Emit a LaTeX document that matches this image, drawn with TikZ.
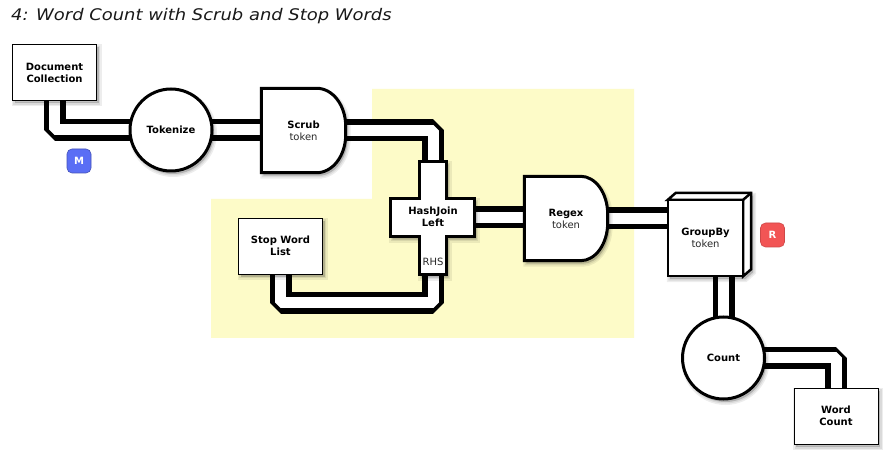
\documentclass[tikz,border=0pt]{standalone}
\usepackage{fontspec}
\setmainfont{DejaVu Sans}
\newfontfamily\titlefont[FakeStretch=1.12]{DejaVu Sans}
\pgfdeclarelayer{bg}\pgfdeclarelayer{pipes}\pgfdeclarelayer{shapes}
\pgfsetlayers{bg,pipes,shapes,main}
\definecolor{zone}{RGB}{253,251,200}
\definecolor{mblue}{RGB}{90,110,245}
\definecolor{rred}{RGB}{242,85,85}
\definecolor{subtext}{RGB}{40,40,40}
\tikzset{
 lbl/.style={font=\fontsize{10}{12}\selectfont, align=center, inner sep=0pt},
 shad/.style={
   preaction={draw=black, draw opacity=0.07, line width=6pt, transform canvas={shift={(2pt,-3pt)}}},
   preaction={draw=black, draw opacity=0.08, line width=3pt, transform canvas={shift={(2pt,-3pt)}}},
   preaction={fill=black, fill opacity=0.18, transform canvas={shift={(2pt,-3pt)}}}},
 store/.style={lbl, font=\fontsize{10}{12}\selectfont\bfseries, draw=black, line width=0.8pt, fill=white, minimum width=84pt, minimum height=56pt, shad},
 proc/.style={lbl, font=\fontsize{10}{12}\selectfont\bfseries, circle, draw=black, line width=3pt, fill=white, minimum size=82pt, shad},
 heavy/.style={draw=black, line width=3pt, fill=white, line join=miter, shad},
 cubeline/.style={draw=black, line width=2.5pt, fill=white, line join=miter},
 pipeout/.style={draw=black, line width=22pt, line join=bevel},
 pipein/.style={draw=white, line width=11pt, line join=bevel},
 badge/.style={rounded corners=5pt, minimum width=24pt, minimum height=24pt, inner sep=0pt, text=white, line width=0.6pt, font=\fontsize{10}{12}\selectfont\bfseries},
}
\newcommand\pipepath[1]{\draw[pipeout] #1; \draw[pipein] #1;}
\newcommand\subt[1]{\textcolor{subtext}{#1}}
\begin{document}
\begin{tikzpicture}[x=1pt,y=1pt]
\useasboundingbox (0,0) rectangle (890,460);
\begin{pgfonlayer}{bg}
\fill[white] (0,0) rectangle (890,460);
\fill[zone] (372,371) -- (634,371) -- (634,122) -- (211,122) -- (211,261) -- (372,261) -- cycle;
\end{pgfonlayer}

% title
\node[anchor=base west, inner sep=0pt, text=black!90, font=\titlefont\itshape\fontsize{16}{18}\selectfont] (title) at (11,439.5) {4: Word Count with Scrub and Stop Words};

% plain nodes
\node[store] (doc) at (54.5,387.5) {Document\\Collection};
\node[store] (sw) at (280.5,214) {Stop Word\\List};
\node[store] (wc) at (836,44) {Word\\Count};
\node[proc] (tok) at (171,330) {Tokenize};
\node[proc] (count) at (723.5,102) {Count};

% nodes whose outline is drawn on the shapes layer
\node[lbl, minimum width=84pt, minimum height=84pt] (scrub) at (303.5,329.5) {\textbf{Scrub}\\\subt{token}};
\node[lbl, minimum width=83pt, minimum height=84pt] (regex) at (566,241.5) {\textbf{Regex}\\\subt{token}};
\node[lbl, minimum width=27pt, minimum height=113pt] (hj) at (433,242) {};
\node[lbl, minimum width=84pt, minimum height=38pt] (hjh) at (432.5,242.5) {};
\node[lbl, font=\fontsize{10}{12}\selectfont\bfseries] (hjl) at (433,243) {HashJoin\\Left};
\node[lbl] (rhs) at (433,198) {\subt{RHS}};
\node[lbl, minimum width=75pt, minimum height=76pt] (gb) at (705.5,222) {\textbf{GroupBy}\\\subt{token}};

% badges
\node[badge, fill=mblue, draw=mblue!75!black] (m) at (79,299) {M};
\node[badge, fill=rred, draw=rred!85!black] (r) at (772.5,225) {R};

\begin{pgfonlayer}{shapes}
% Scrub
\draw[heavy] (scrub.south west) -- (scrub.north west) -- ([xshift=-29pt]scrub.north east)
  arc[start angle=90,end angle=0,x radius=29pt,y radius=38pt] -- ([yshift=38pt]scrub.south east)
  arc[start angle=0,end angle=-90,x radius=29pt,y radius=38pt] -- cycle;
% Regex
\draw[heavy] (regex.south west) -- (regex.north west) -- ([xshift=-27pt]regex.north east)
  arc[start angle=90,end angle=0,x radius=27pt,y radius=38pt] -- ([yshift=38pt]regex.south east)
  arc[start angle=0,end angle=-90,x radius=27pt,y radius=38pt] -- cycle;
% HashJoin cross
\draw[heavy] (hj.north west) -- (hj.north east) -- (hj.east |- hjh.north) -- (hjh.north east)
  -- (hjh.south east) -- (hj.east |- hjh.south) -- (hj.south east) -- (hj.south west)
  -- (hj.west |- hjh.south) -- (hjh.south west) -- (hjh.north west) -- (hj.west |- hjh.north) -- cycle;
% GroupBy cube
\path[shad] (gb.south west) -- (gb.north west) -- ([shift={(8,7)}]gb.north west)
  -- ([shift={(8,7)}]gb.north east) -- ([shift={(8,7)}]gb.south east) -- (gb.south east) -- cycle;
\draw[cubeline] (gb.north west) -- ([shift={(8,7)}]gb.north west) -- ([shift={(8,7)}]gb.north east)
  -- ([shift={(8,7)}]gb.south east) -- (gb.south east) -- (gb.north east) -- cycle;
\draw[cubeline] (gb.north east) -- ([shift={(8,7)}]gb.north east);
\draw[cubeline] (gb.south west) rectangle (gb.north east);
\end{pgfonlayer}

\begin{pgfonlayer}{pipes}
\pipepath{(doc.center) |- (tok.center)}
\pipepath{(tok.center) -- (tok.center -| scrub.center)}
\pipepath{(scrub.center) -| (hj.center)}
\pipepath{(sw.center) -- ++(0,-57) -| (hj.center)}
\pipepath{(hjh.center) -- (hjh.center -| regex.center)}
\pipepath{(regex.center) -- (regex.center -| gb.center)}
\pipepath{(count.center) -- (count.center |- gb.center)}
\pipepath{(count.center) -| (wc.center)}
\end{pgfonlayer}
\end{tikzpicture}
\end{document}
